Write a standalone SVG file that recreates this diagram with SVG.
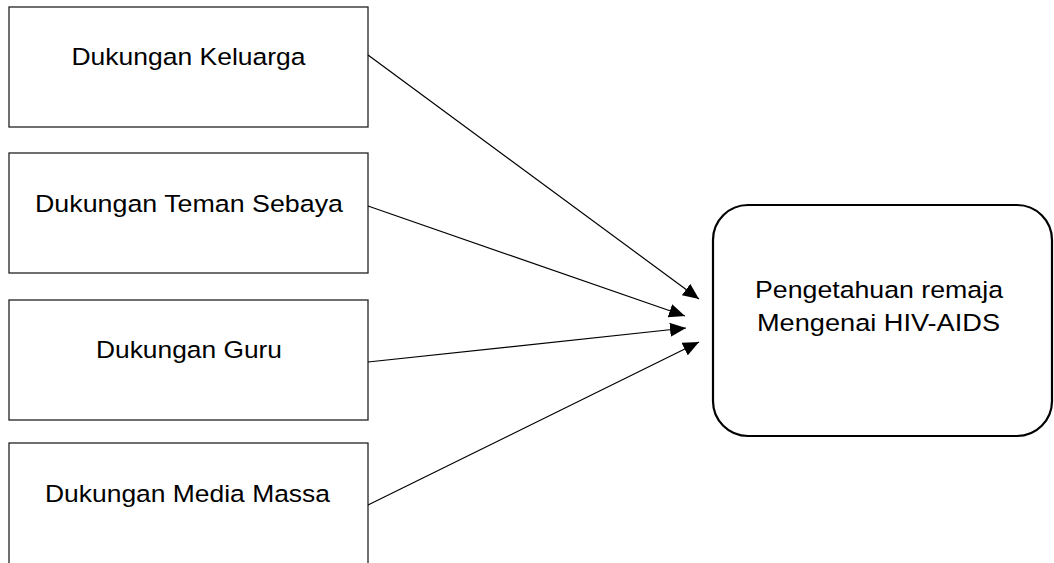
<svg xmlns="http://www.w3.org/2000/svg" width="1054" height="563" viewBox="0 0 1054 563">
<defs>
<style>
.box{fill:#fff;stroke:#222;stroke-width:1.3}
.rbox{fill:#fff;stroke:#000;stroke-width:2.2}
.t{font-family:"Liberation Sans",Arial,sans-serif;font-size:24.5px;fill:#000;text-anchor:middle}
.c{stroke:#000;stroke-width:1.2;fill:none;marker-end:url(#ah)}
</style>
<marker id="ah" markerUnits="userSpaceOnUse" markerWidth="16" markerHeight="14" refX="16" refY="7" orient="auto">
<path d="M0,0 L16,7 L0,14 Z" fill="#000"/>
</marker>
</defs>
<rect width="1054" height="563" fill="#fff"/>
<g id="n1"><rect class="box" x="9" y="7" width="359" height="120"/><text class="t" x="188.5" y="65" textLength="234" lengthAdjust="spacingAndGlyphs">Dukungan Keluarga</text></g>
<g id="n2"><rect class="box" x="9" y="153" width="359" height="120"/><text class="t" x="189" y="212" textLength="308" lengthAdjust="spacingAndGlyphs">Dukungan Teman Sebaya</text></g>
<g id="n3"><rect class="box" x="9" y="300" width="359" height="120"/><text class="t" x="189" y="358" textLength="186" lengthAdjust="spacingAndGlyphs">Dukungan Guru</text></g>
<g id="n4"><rect class="box" x="9" y="443" width="359" height="140"/><text class="t" x="187.5" y="502" textLength="285" lengthAdjust="spacingAndGlyphs">Dukungan Media Massa</text></g>
<g id="n5"><rect class="rbox" x="713" y="205" width="339" height="231" rx="35" ry="35"/><text class="t" x="879" y="298" textLength="248" lengthAdjust="spacingAndGlyphs">Pengetahuan remaja</text><text class="t" x="878.5" y="331" textLength="243" lengthAdjust="spacingAndGlyphs">Mengenai HIV-AIDS</text></g>
<g id="connectors">
<line class="c" x1="368" y1="55" x2="699" y2="299"/>
<line class="c" x1="368" y1="206" x2="685" y2="316"/>
<line class="c" x1="368" y1="362" x2="686" y2="328"/>
<line class="c" x1="368" y1="505" x2="699" y2="342"/>
</g>
</svg>
